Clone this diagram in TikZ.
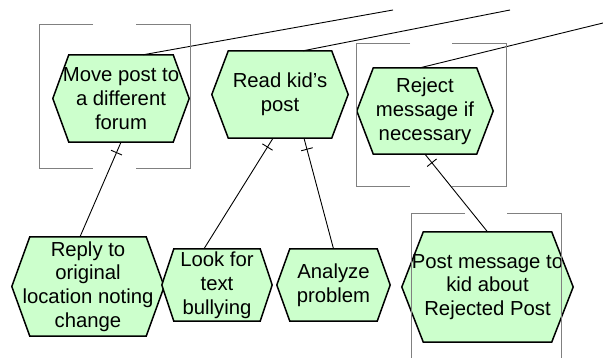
\documentclass[tikz,border=0pt]{standalone}
\usepackage{fontspec}
\setmainfont{Liberation Sans}
\usetikzlibrary{backgrounds}
\definecolor{fngreen}{RGB}{204,255,204}
\definecolor{brgray}{RGB}{128,128,128}

\begin{document}
\begin{tikzpicture}[x=1pt, y=-1pt,
    fn/.style={rectangle, inner sep=0pt, align=center,
      font=\fontsize{20.3}{23.8}\selectfont},
    hexline/.style={draw=black, line width=1.5pt, fill=fngreen, line join=miter},
    link/.style={draw=black, line width=0.9pt},
    tick/.style={sloped, draw=black, line width=0.9pt, inner sep=0pt,
      minimum width=0pt, minimum height=12pt},
    bracket/.style={draw=brgray, line width=1pt}]
  \clip (0,0) rectangle (603,358);

  % Funciones
  \node[fn, minimum width=136pt, minimum height=87pt] (move) at (121,98.5) {Move post to\\a different\\forum};
  \node[fn, minimum width=136pt, minimum height=87pt] (read) at (280,94.5) {Read kid’s\\post};
  \node[fn, minimum width=136pt, minimum height=86pt] (reject) at (425,111) {Reject\\message if\\necessary};
  \node[fn, minimum width=152pt, minimum height=99pt] (reply) at (88,286.5) {Reply to\\original\\location noting\\change};
  \node[fn, minimum width=110pt, minimum height=72pt] (look) at (217,285) {Look for\\text\\bullying};
  \node[fn, minimum width=113pt, minimum height=72pt] (analyze) at (333.5,285) {Analyze\\problem};
  \node[fn, minimum width=171pt, minimum height=110pt] (post) at (487.5,287) {Post message to\\kid about\\Rejected Post};

  % Hexagonos
  \begin{scope}[on background layer]
    \foreach \n/\c in {move/16, read/16.5, reject/16.5, reply/18, look/12, analyze/13, post/21.5}
      \path[hexline] (\n.west) -- ([xshift=\c]\n.north west) -- ([xshift=-\c]\n.north east)
        -- (\n.east) -- ([xshift=-\c]\n.south east) -- ([xshift=\c]\n.south west) -- cycle;
  \end{scope}

  % Enlaces
  \draw[link] (move.south) -- node[tick, pos=0.11]{} ([xshift=-8]reply.north);
  \draw[link] ([xshift=-7]read.south) -- node[tick, pos=0.08]{} ([xshift=-13]look.north);
  \draw[link] ([xshift=24]read.south) -- node[tick, pos=0.1]{} (analyze.north);
  \draw[link] (reject.south) -- node[tick, pos=0.11]{} (post.north);

  % Lineas hacia arriba
  \coordinate (upmove) at (393,10);
  \coordinate (upread) at (510,10);
  \coordinate (upreject) at (603,23);
  \draw[link] ([xshift=22]move.north) -- (upmove);
  \draw[link] ([xshift=23]read.north) -- (upread);
  \draw[link] ([xshift=-5]reject.north) -- (upreject);

  % Corchetes
  \draw[bracket] (93,25) -- (39,25) -- (39,169) -- (93,169);
  \draw[bracket] (136,25) -- (190,25) -- (190,169) -- (136,169);
  \draw[bracket] (410,44) -- (356,44) -- (356,187) -- (410,187);
  \draw[bracket] (452,44) -- (506,44) -- (506,187) -- (452,187);
  \draw[bracket] (465,214) -- (411,214) -- (411,400);
  \draw[bracket] (507,214) -- (561,214) -- (561,400);
\end{tikzpicture}
\end{document}
